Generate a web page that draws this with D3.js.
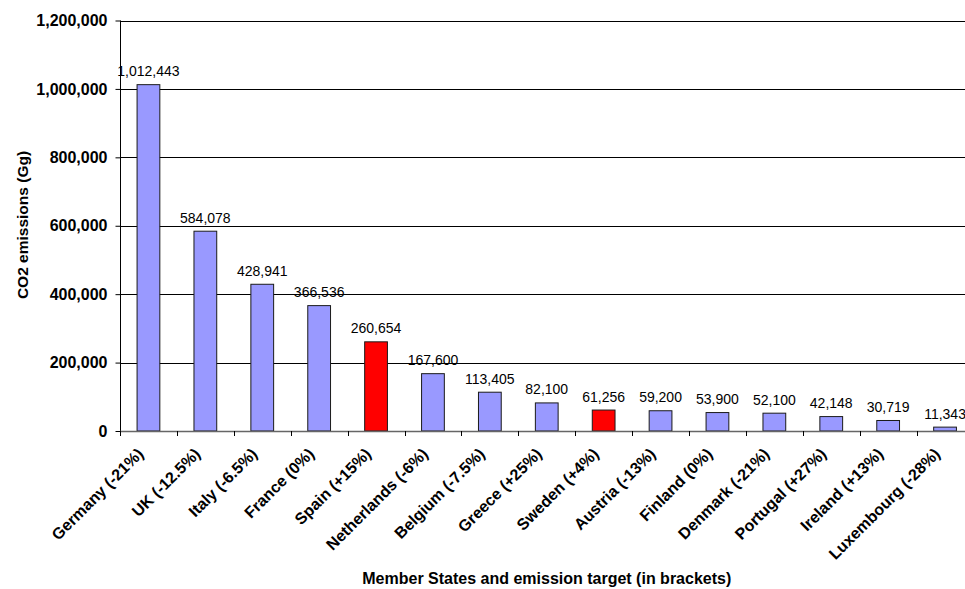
<!DOCTYPE html>
<html><head><meta charset="utf-8">
<script src="https://cdn.jsdelivr.net/npm/d3@7"></script>
<style>body{margin:0;background:#fff;}svg{display:block;font-family:"Liberation Sans",Arial,sans-serif;}</style>
</head><body>
<script>
const categories = ["Germany (-21%)","UK (-12.5%)","Italy (-6.5%)","France (0%)","Spain (+15%)","Netherlands (-6%)","Belgium (-7.5%)","Greece (+25%)","Sweden (+4%)","Austria (-13%)","Finland (0%)","Denmark (-21%)","Portugal (+27%)","Ireland (+13%)","Luxembourg (-28%)"];
const values = [1012443,584078,428941,366536,260654,167600,113405,82100,61256,59200,53900,52100,42148,30719,11343];
const highlighted = ["Spain (+15%)","Sweden (+4%)"];
const yTicks = [0,200000,400000,600000,800000,1000000,1200000];
const yTitle = "CO2 emissions (Gg)";
const xTitle = "Member States and emission target (in brackets)";

const W = 965, H = 589;
const svg = d3.select("body").append("svg").attr("width", W).attr("height", H);
const x0 = 120, x1 = 973.5, y0 = 431, y1 = 20.5;
const x = d3.scaleBand().domain(categories).range([x0, x1]).paddingInner(0.6).paddingOuter(0.3);
const y = d3.scaleLinear().domain([0, 1200000]).range([y0, y1]);
const fmt = d3.format(",");

// gridlines
svg.append("g").selectAll("line").data(yTicks.filter(d => d > 0)).join("line")
  .attr("x1", x0).attr("x2", W).attr("y1", d => Math.round(y(d)) + 0.5).attr("y2", d => Math.round(y(d)) + 0.5)
  .attr("stroke", "#000").attr("stroke-width", 1);

// bars
svg.append("g").selectAll("rect").data(categories).join("rect")
  .attr("x", d => x(d)).attr("width", x.bandwidth())
  .attr("y", (d, i) => y(values[i])).attr("height", (d, i) => y0 - y(values[i]))
  .attr("fill", d => highlighted.includes(d) ? "#FF0000" : "#9999FF")
  .attr("stroke", "#1a1a1a").attr("stroke-width", 1);

// value labels
svg.append("g").selectAll("text").data(categories).join("text")
  .attr("x", d => x(d) + x.bandwidth() / 2)
  .attr("y", (d, i) => y(values[i]) - 8.5)
  .attr("text-anchor", "middle").attr("font-size", 14).attr("fill", "#000")
  .text((d, i) => fmt(values[i]));

// y axis
const yAxis = d3.axisLeft(y).tickValues(yTicks).tickFormat(fmt).tickSize(5).tickPadding(8);
const gy = svg.append("g").attr("transform", `translate(${x0 + 0.5},0)`).call(yAxis);
gy.select(".domain").attr("stroke", "#000").attr("d", `M0,${y1}V${y0}`);
gy.selectAll(".tick line").attr("stroke", "#000");
gy.selectAll(".tick text").attr("font-size", 16).attr("font-weight", "bold").attr("font-family", "Liberation Sans, Arial, sans-serif").attr("fill", "#000");

// x axis baseline and ticks at band boundaries
const step = x.step();
const bounds = d3.range(categories.length + 1).map(i => x0 + i * step);
svg.append("line").attr("x1", x0).attr("x2", W).attr("y1", y0 + 0.5).attr("y2", y0 + 0.5).attr("stroke", "#666").attr("stroke-width", 1.5);
svg.append("g").selectAll("line").data(bounds).join("line")
  .attr("x1", d => Math.round(d) + 0.5).attr("x2", d => Math.round(d) + 0.5)
  .attr("y1", y0).attr("y2", y0 + 5).attr("stroke", "#000");

// x category labels
svg.append("g").selectAll("text").data(categories).join("text")
  .attr("transform", d => `translate(${x(d) + x.bandwidth() / 2 - 4},${y0 + 24}) rotate(-45)`)
  .attr("text-anchor", "end").attr("font-size", 16).attr("font-weight", "bold").attr("fill", "#000")
  .text(d => d);

// axis titles
svg.append("text").attr("transform", `translate(28,225) rotate(-90)`)
  .attr("text-anchor", "middle").attr("font-size", 15.5).attr("font-weight", "bold").text(yTitle);
svg.append("text").attr("x", (x0 + x1) / 2).attr("y", 584)
  .attr("text-anchor", "middle").attr("font-size", 16).attr("font-weight", "bold").text(xTitle);
</script>
</body></html>
